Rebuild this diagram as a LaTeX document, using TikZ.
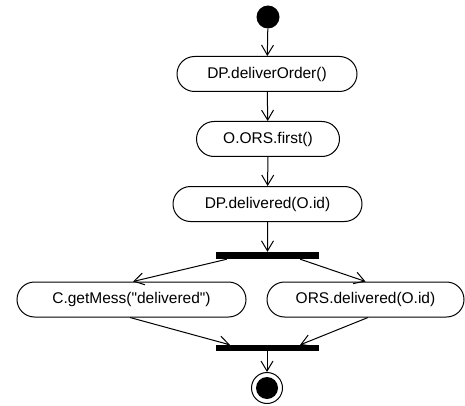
\documentclass[tikz,border=0pt]{standalone}
\usepackage{fontspec}
\newfontfamily\libsans{Liberation Sans}
\usetikzlibrary{arrows.meta,shapes.misc,calc}
\begin{document}
\begin{tikzpicture}[x=1pt,y=-1pt,
  act/.style={draw,line width=1pt,rounded rectangle,minimum height=35pt,inner sep=0pt,font=\libsans\fontsize{15.5}{18}\selectfont},
  bar/.style={fill=black,draw=none,minimum width=103pt,minimum height=7pt,inner sep=0pt},
  flow/.style={line width=1pt,-{Straight Barb[length=10pt,width=12pt,line width=1pt]}}]
\useasboundingbox (0,0) rectangle (465,406);
\node[circle,fill=black,minimum size=23pt,inner sep=0pt] (start) at (268,17) {};
\node[act,minimum width=180pt] (n1) at (267,74) {DP.deliverOrder()};
\node[act,minimum width=143pt] (n2) at (268,139) {O.ORS.first()};
\node[act,minimum width=189pt] (n3) at (267.5,204) {DP.delivered(O.id)};
\node[bar] (fork) at (267.5,255.5) {};
\node[act,minimum width=229pt] (left) at (131.5,299.5) {C.getMess("delivered")};
\node[act,minimum width=197pt] (right) at (365.5,299.5) {ORS.delivered(O.id)};
\node[bar,minimum height=6pt] (join) at (267.5,348) {};
\node[circle,draw,line width=1pt,minimum size=31pt,inner sep=0pt] (end) at (267,388) {};
\node[circle,fill=black,minimum size=22pt,inner sep=0pt] (endin) at (267,388) {};
\draw[flow] (start) -- (n1);
\draw[flow] (n1) -- (n2);
\draw[flow] (n2) -- (n3);
\draw[flow] (n3) -- (n3 |- fork.north);
\draw[flow] ($(fork.south west)!0.107!(fork.south east)$) -- ($(left.north)+(1.5,0)$);
\draw[flow] ($(fork.south west)!0.816!(fork.south east)$) -- (right.north);
\draw[flow] ($(left.south)+(-1.5,0)$) -- ($(join.north west)!0.136!(join.north east)$);
\draw[flow] ($(right.south)+(2.5,0)$) -- ($(join.north west)!0.816!(join.north east)$);
\draw[flow] (join.south -| end) -- (end);
\end{tikzpicture}
\end{document}
